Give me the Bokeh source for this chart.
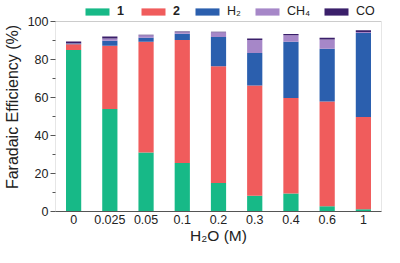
from bokeh.plotting import figure
from bokeh.models import ColumnDataSource, Legend, LegendItem, FactorRange, FixedTicker, BoxAnnotation
from bokeh.embed import file_html
from bokeh.resources import INLINE

categories = ["0", "0.025", "0.05", "0.1", "0.2", "0.3", "0.4", "0.6", "1"]
p1 = [85.0, 54.0, 31.0, 25.5, 15.0, 8.3, 9.5, 2.8, 1.2]
p2 = [3.0, 33.2, 58.3, 64.7, 61.5, 58.0, 50.2, 55.1, 48.6]
h2 = [0.4, 2.7, 2.1, 3.3, 15.4, 17.1, 29.7, 27.8, 44.1]
ch4 = [0.2, 1.2, 1.3, 0.9, 2.5, 6.8, 3.3, 4.8, 0.6]
co = [0.9, 1.0, 0.3, 0.4, 0.2, 0.8, 0.7, 0.9, 0.9]
series = ["p1", "p2", "h2", "ch4", "co"]
labels = ["1", "2", "H\u2082", "CH\u2084", "CO"]
colors = ["#17b987", "#f05c5c", "#2b5fae", "#a687c8", "#3a1f6a"]
y_ticks = [0, 20, 40, 60, 80, 100]
y_minor = [10, 30, 50, 70, 90]

src = ColumnDataSource(dict(x=categories, p1=p1, p2=p2, h2=h2, ch4=ch4, co=co))

FONT = "Liberation Sans"
EDGE = "#555555"
W, H, TOP, BOTTOM = 384, 247, 2, 36
p = figure(width=W, height=H, x_range=FactorRange(*categories), y_range=(0, 110),
           output_backend="svg", toolbar_location=None,
           min_border_left=45, min_border_right=3, min_border_top=TOP, min_border_bottom=BOTTOM)

renderers = p.vbar_stack(series, x="x", width=0.42, color=colors, source=src, line_width=0)

p.xgrid.visible = False
p.ygrid.visible = False
p.outline_line_color = None
p.add_layout(BoxAnnotation(bottom=0, top=100, fill_alpha=0, line_color=EDGE, line_width=1))

for ax in (p.xaxis[0], p.yaxis[0]):
    ax.axis_line_color = EDGE
    ax.major_tick_line_color = EDGE
    ax.minor_tick_line_color = EDGE
    ax.major_label_text_font = FONT
    ax.major_label_text_font_size = "12.5px"
    ax.major_label_text_color = "#222222"
    ax.axis_label_text_font = FONT
    ax.axis_label_text_font_style = "normal"
    ax.axis_label_text_color = "#222222"

p.yaxis.axis_line_color = None
p.yaxis.axis_label = "Faradaic Efficiency (%)"
p.yaxis.axis_label_text_font_size = "16px"
p.yaxis.ticker = FixedTicker(ticks=y_ticks, minor_ticks=y_minor)
p.yaxis.major_tick_in = 0
p.yaxis.major_tick_out = 5
p.yaxis.minor_tick_in = 0
p.yaxis.minor_tick_out = 3
p.yaxis.major_label_standoff = 2
p.yaxis.axis_label_standoff = 4

p.xaxis.axis_label = "H\u2082O (M)"
p.xaxis.axis_label_text_font_size = "15.5px"
p.xaxis.major_tick_out = 0
p.xaxis.major_tick_in = 0
p.xaxis.major_label_standoff = 3
p.xaxis.axis_label_standoff = 0

frame_h = H - TOP - BOTTOM
legA = Legend(items=[LegendItem(label=labels[i], renderers=[renderers[i]]) for i in range(2)],
              orientation="horizontal", location=(27, frame_h - 16), glyph_width=30, glyph_height=9,
              label_text_font=FONT, label_text_font_size="12.5px", label_text_font_style="bold",
              label_text_color="#222222",
              label_width=0, label_height=9, label_standoff=5, spacing=14, padding=0, margin=0,
              border_line_alpha=0, background_fill_alpha=0)
legB = Legend(items=[LegendItem(label=labels[i], renderers=[renderers[i]]) for i in range(2, 5)],
              orientation="horizontal", location=(137, frame_h - 16), glyph_width=30, glyph_height=9,
              label_text_font=FONT, label_text_font_size="12.5px", label_text_font_style="normal",
              label_text_color="#222222",
              label_width=0, label_height=9, label_standoff=5, spacing=11, padding=0, margin=0,
              border_line_alpha=0, background_fill_alpha=0)
p.add_layout(legA, "center")
p.add_layout(legB, "center")

open("out.html", "w").write(file_html(p, INLINE))
